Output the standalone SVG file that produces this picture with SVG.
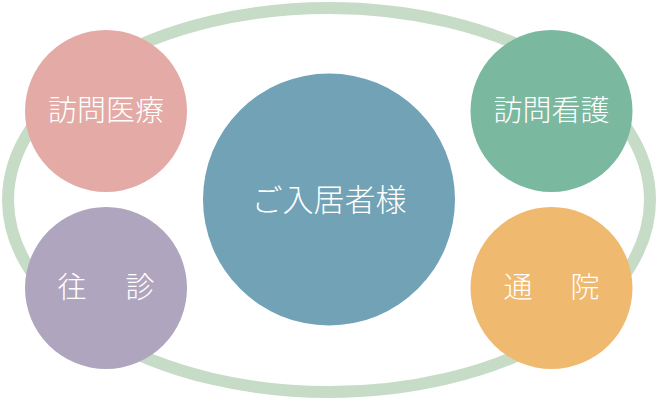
<svg xmlns="http://www.w3.org/2000/svg" width="658" height="400" viewBox="0 0 658 400">
<style>
.lbl{font-family:"Noto Sans CJK JP","Liberation Serif",serif;fill:#fff;text-anchor:middle;font-weight:300}
</style>
<rect width="658" height="400" fill="#fff"/>
<g id="connectors">
<ellipse cx="329" cy="200" rx="321" ry="192" fill="none" stroke="#c6dcc6" stroke-width="12"/>
</g>
<g id="center">
<circle cx="329" cy="199.5" r="126" fill="#72a2b6"/>
<text class="lbl" x="329" y="211" font-size="31">ご入居者様</text>
</g>
<g id="houmon-iryou">
<circle cx="106" cy="111" r="81" fill="#e3aaa6"/>
<text class="lbl" x="106" y="121" font-size="29">訪問医療</text>
</g>
<g id="houmon-kango">
<circle cx="551.5" cy="111" r="81" fill="#7ab89f"/>
<text class="lbl" x="551.5" y="121" font-size="29">訪問看護</text>
</g>
<g id="oushin">
<circle cx="106" cy="288" r="81" fill="#afa5bf"/>
<text class="lbl" x="106" y="298" font-size="29"><tspan x="72">往</tspan><tspan x="140">診</tspan></text>
</g>
<g id="tsuuin">
<circle cx="551.5" cy="288" r="81" fill="#f0b970"/>
<text class="lbl" x="551.5" y="298" font-size="29"><tspan x="518">通</tspan><tspan x="585">院</tspan></text>
</g>
</svg>
